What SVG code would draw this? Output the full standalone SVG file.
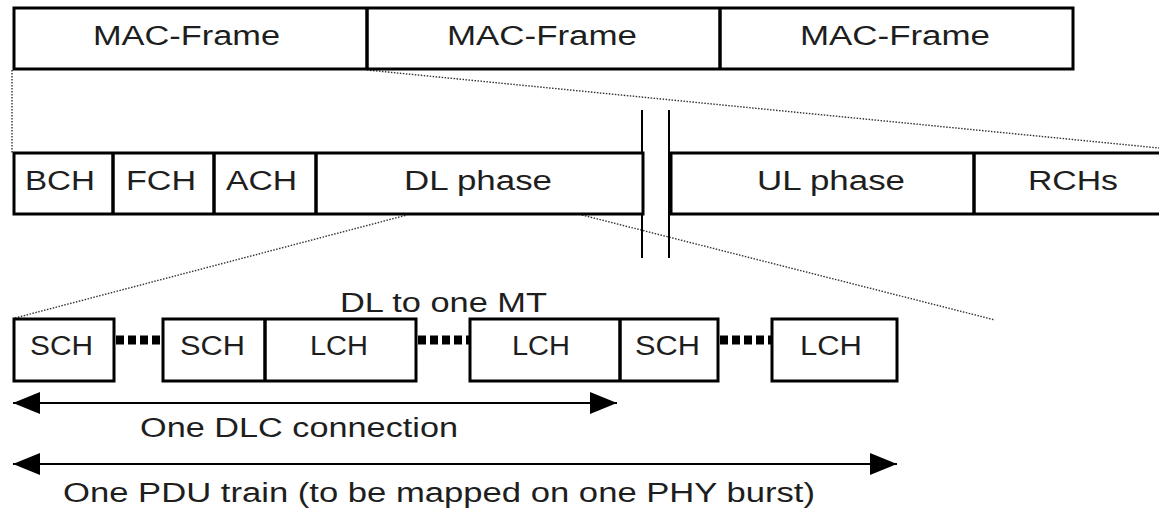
<svg xmlns="http://www.w3.org/2000/svg" width="1159" height="508" viewBox="0 0 1159 508">
<defs>
<style>
.box{fill:#fff;stroke:#000;stroke-width:3}
.div{stroke:#000;stroke-width:3.5}
.t{font-family:"Liberation Sans",Arial,sans-serif;font-size:27px;fill:#1e1e1e}
.dot{fill:none;stroke:#333;stroke-width:1.4;stroke-dasharray:1.5 1.5}
.brk{stroke:#000;stroke-width:2}
.dash{stroke:#000;stroke-width:9;stroke-dasharray:8 4}
.arr{stroke:#000;stroke-width:2;fill:none;marker-start:url(#ah);marker-end:url(#ah)}
</style>
<marker id="ah" markerUnits="userSpaceOnUse" markerWidth="28" markerHeight="22" refX="27" refY="11" orient="auto-start-reverse" viewBox="0 0 28 22">
<path d="M0,0 L27,11 L0,22 z" fill="#000"/>
</marker>
</defs>
<rect width="1159" height="508" fill="#fff"/>

<g id="connectors">
<line class="dot" x1="12" y1="70" x2="12" y2="153"/>
<line class="dot" x1="367" y1="70" x2="1159" y2="148"/>
<line class="dot" x1="15" y1="318" x2="407" y2="215"/>
<line class="dot" x1="582" y1="215" x2="995" y2="320"/>
<line class="brk" x1="642" y1="110" x2="642" y2="258"/>
<line class="brk" x1="669" y1="110" x2="669" y2="258"/>
<line class="dash" x1="116" y1="340" x2="163" y2="340"/>
<line class="dash" x1="418" y1="340" x2="470" y2="340"/>
<line class="dash" x1="720" y1="340" x2="772" y2="340"/>
<line class="arr" x1="13" y1="403" x2="617" y2="403"/>
<line class="arr" x1="13" y1="464" x2="897" y2="464"/>
</g>

<g id="mac-frames">
<rect class="box" x="14" y="8" width="1059" height="61"/>
<line class="div" x1="367" y1="8" x2="367" y2="69"/>
<line class="div" x1="720" y1="8" x2="720" y2="69"/>
<text class="t" x="93" y="45" textLength="187" lengthAdjust="spacingAndGlyphs">MAC-Frame</text>
<text class="t" x="447" y="45" textLength="190" lengthAdjust="spacingAndGlyphs">MAC-Frame</text>
<text class="t" x="800" y="45" textLength="190" lengthAdjust="spacingAndGlyphs">MAC-Frame</text>
</g>

<g id="dl-frame">
<rect class="box" x="14" y="153" width="629" height="61"/>
<line class="div" x1="113" y1="153" x2="113" y2="214"/>
<line class="div" x1="214" y1="153" x2="214" y2="214"/>
<line class="div" x1="316" y1="153" x2="316" y2="214"/>
<text class="t" x="25" y="190" textLength="70" lengthAdjust="spacingAndGlyphs">BCH</text>
<text class="t" x="126" y="190" textLength="70" lengthAdjust="spacingAndGlyphs">FCH</text>
<text class="t" x="226" y="190" textLength="71" lengthAdjust="spacingAndGlyphs">ACH</text>
<text class="t" x="404" y="190" textLength="148" lengthAdjust="spacingAndGlyphs">DL phase</text>
</g>

<g id="ul-frame">
<rect class="box" x="671" y="153" width="500" height="61"/>
<line class="div" x1="974" y1="153" x2="974" y2="214"/>
<text class="t" x="757" y="190" textLength="148" lengthAdjust="spacingAndGlyphs">UL phase</text>
<text class="t" x="1028" y="190" textLength="90" lengthAdjust="spacingAndGlyphs">RCHs</text>
</g>

<g id="label-mt">
<text class="t" x="340" y="312" textLength="207" lengthAdjust="spacingAndGlyphs">DL to one MT</text>
</g>

<g id="sch1">
<rect class="box" x="14" y="319" width="100" height="62"/>
<text class="t" x="30" y="355" textLength="63" lengthAdjust="spacingAndGlyphs">SCH</text>
</g>

<g id="sch-lch">
<rect class="box" x="163" y="319" width="253" height="62"/>
<line class="div" x1="265" y1="319" x2="265" y2="381"/>
<text class="t" x="180" y="355" textLength="65" lengthAdjust="spacingAndGlyphs">SCH</text>
<text class="t" x="310" y="355" textLength="58" lengthAdjust="spacingAndGlyphs">LCH</text>
</g>

<g id="lch-sch">
<rect class="box" x="470" y="319" width="248" height="62"/>
<line class="div" x1="620" y1="319" x2="620" y2="381"/>
<text class="t" x="512" y="355" textLength="58" lengthAdjust="spacingAndGlyphs">LCH</text>
<text class="t" x="635" y="355" textLength="65" lengthAdjust="spacingAndGlyphs">SCH</text>
</g>

<g id="lch-last">
<rect class="box" x="772" y="319" width="125" height="62"/>
<text class="t" x="800" y="355" textLength="62" lengthAdjust="spacingAndGlyphs">LCH</text>
</g>

<g id="labels">
<text class="t" x="140" y="437" textLength="318" lengthAdjust="spacingAndGlyphs">One DLC connection</text>
<text class="t" x="63" y="502" textLength="752" lengthAdjust="spacingAndGlyphs">One PDU train (to be mapped on one PHY burst)</text>
</g>
</svg>
